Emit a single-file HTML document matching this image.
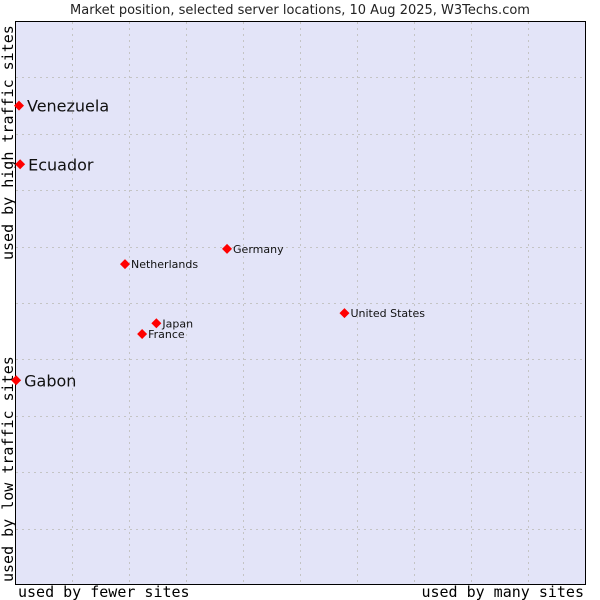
<!DOCTYPE html>
<html><head><meta charset="utf-8"><style>
body{margin:0;background:#fff;width:600px;height:600px;overflow:hidden}
svg{display:block}
</style></head><body>
<svg width="600" height="600" xmlns="http://www.w3.org/2000/svg">
<text x="300" y="14" text-anchor="middle" font-family="DejaVu Sans, sans-serif" font-size="13" fill="#222">Market position, selected server locations, 10 Aug 2025, W3Techs.com</text>
<rect x="15.5" y="21.5" width="570" height="563" fill="#e3e4f8" stroke="#000"/>
<g id="grid"></g>
<text x="18" y="597" font-family="DejaVu Sans Mono, Liberation Mono, monospace" font-size="15" fill="#000">used by fewer sites</text>
<text x="584" y="597" text-anchor="end" font-family="DejaVu Sans Mono, Liberation Mono, monospace" font-size="15" fill="#000">used by many sites</text>
<text transform="translate(13,582) rotate(-90)" font-family="DejaVu Sans Mono, Liberation Mono, monospace" font-size="15" fill="#000">used by low traffic sites</text>
<text transform="translate(13,260) rotate(-90)" font-family="DejaVu Sans Mono, Liberation Mono, monospace" font-size="15" fill="#000">used by high traffic sites</text>
<g id="points"></g>
</svg>
<script>
const countries=["Venezuela","Ecuador","Gabon","Germany","Netherlands","United States","Japan","France"];
const xValues=[0.7,0.9,0.2,37.2,19.3,57.8,24.8,22.3];
const yValues=[85.0,74.6,36.3,59.6,56.9,48.2,46.4,44.5];
const bigLabel=[true,true,true,false,false,false,false,false];
const gridX=[10,20,30,40,50,60,70,80,90];
const gridY=[10,20,30,40,50,60,70,80,90];
const L=15,R=585,T=21,B=585;
const sx=v=>L+v/100*(R-L), sy=v=>B-v/100*(B-T);
const ns="http://www.w3.org/2000/svg";
const g=document.getElementById('grid');
gridX.forEach(v=>{const l=document.createElementNS(ns,'line');const x=Math.round(sx(v))+0.5;
l.setAttribute('x1',x);l.setAttribute('x2',x);l.setAttribute('y1',T+1);l.setAttribute('y2',B);
l.setAttribute('stroke','#c4c4c4');l.setAttribute('stroke-dasharray','2,4');


g.appendChild(l);});
gridY.forEach(v=>{const l=document.createElementNS(ns,'line');const y=Math.round(sy(v))+0.5;
l.setAttribute('x1',L+1);l.setAttribute('x2',R);l.setAttribute('y1',y);l.setAttribute('y2',y);
l.setAttribute('stroke','#c4c4c4');l.setAttribute('stroke-dasharray','2,4');


g.appendChild(l);});
const p=document.getElementById('points');
countries.forEach((c,i)=>{const x=sx(xValues[i]),y=sy(yValues[i]);
const d=document.createElementNS(ns,'path');
d.setAttribute('d',`M${x-5},${y}L${x},${y-5}L${x+5},${y}L${x},${y+5}Z`);
d.setAttribute('fill','#f00');


p.appendChild(d);
const t=document.createElementNS(ns,'text');
const big=bigLabel[i];
t.setAttribute('x',x+(big?8:6));t.setAttribute('y',y+(big?6:4));
t.setAttribute('font-family','DejaVu Sans, sans-serif');t.setAttribute('font-size',big?16:11);
t.setAttribute('fill','#111');t.textContent=c;


p.appendChild(t);});
</script>
</body></html>
